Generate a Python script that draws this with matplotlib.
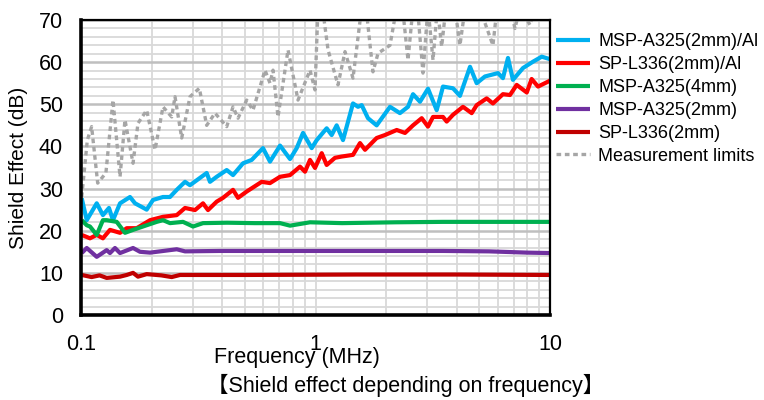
import numpy as np
import matplotlib
matplotlib.use("Agg")
import matplotlib.pyplot as plt
from matplotlib.ticker import MultipleLocator, LogLocator, FixedLocator, NullFormatter

plt.rcParams['font.family'] = ['Liberation Sans', 'DejaVu Sans', 'Noto Sans CJK JP']

# MSP-A325(2mm)/Al
blue_f = [0.1007, 0.1058, 0.1167, 0.124, 0.1316, 0.1369, 0.1467, 0.1618, 0.170, 0.1906,
          0.2028, 0.2237, 0.2396, 0.256, 0.2777, 0.2916, 0.3436, 0.3548, 0.379, 0.4182,
          0.4449, 0.4909, 0.5345, 0.5971, 0.6397, 0.706, 0.7788, 0.8315, 0.8845, 0.9634,
          1.012, 1.116, 1.172, 1.231, 1.31, 1.445, 1.518, 1.574, 1.674, 1.823,
          2.078, 2.291, 2.48, 2.605, 2.79, 3.018, 3.287, 3.497, 3.857, 4.13,
          4.56, 4.868, 5.28, 6.0, 6.3, 6.62, 6.95, 7.67, 8.46, 9.22, 10.0]
blue_v = [27.7, 22.5, 26.5, 23.7, 25.4, 22.5, 26.5, 28.0, 26.5, 25.0,
          27.3, 28.0, 28.0, 29.7, 31.6, 30.8, 33.7, 31.6, 32.8, 34.4,
          33.2, 36.0, 36.8, 39.6, 36.4, 40.2, 37.0, 39.6, 43.2, 39.6,
          41.5, 44.3, 42.7, 45.0, 41.5, 50.2, 49.4, 49.8, 46.7, 45.0,
          49.4, 47.9, 49.4, 52.4, 50.6, 53.7, 48.6, 54.2, 53.8, 52.0,
          58.9, 55.0, 56.6, 57.4, 56.2, 61.0, 55.8, 58.6, 60.1, 61.3, 60.7]

# SP-L336(2mm)/Al
red_f = [0.1007, 0.1092, 0.1167, 0.124, 0.1329, 0.1467, 0.1567, 0.1728, 0.197, 0.2237,
         0.256, 0.2777, 0.3063, 0.3314, 0.348, 0.379, 0.4032, 0.4449, 0.4673, 0.5089,
         0.5896, 0.6397, 0.706, 0.7788, 0.8588, 0.902, 0.9474, 0.995, 1.063, 1.116,
         1.211, 1.293, 1.445, 1.548, 1.626, 1.823, 1.977, 2.22, 2.408, 2.605,
         2.837, 3.018, 3.17, 3.497, 3.626, 3.857, 4.255, 4.635, 4.868, 5.37,
         5.71, 6.3, 6.75, 7.21, 7.96, 8.35, 8.89, 10.0]
red_v = [19.0, 18.2, 19.0, 18.2, 20.2, 19.5, 20.6, 20.6, 22.5, 23.3,
         23.7, 25.4, 24.9, 26.5, 24.9, 26.9, 27.8, 29.7, 27.8, 29.3,
         31.6, 31.3, 32.8, 33.2, 35.2, 34.0, 36.8, 34.9, 38.4, 35.6,
         37.3, 37.6, 38.0, 40.8, 39.2, 42.0, 42.7, 43.9, 43.2, 45.0,
         46.7, 44.7, 47.0, 47.0, 45.9, 47.5, 49.4, 47.9, 49.8, 51.4,
         50.2, 52.4, 52.2, 54.6, 52.8, 56.0, 54.2, 55.6]

# MSP-A325(4mm)
green_f = [0.1007, 0.1058, 0.1092, 0.1167, 0.124, 0.1287, 0.142, 0.154, 0.1667, 0.1906,
           0.2103, 0.2237, 0.2396, 0.2723, 0.3004, 0.3314, 0.42, 0.55, 0.706, 0.7788,
           0.9474, 1.3, 2.2, 3.5, 6.0, 10.0]
green_v = [22.5, 21.3, 21.0, 19.0, 22.5, 22.5, 22.1, 19.5, 20.2, 21.3,
           22.1, 22.5, 21.8, 22.1, 21.0, 21.8, 21.9, 21.8, 21.8, 21.2,
           22.0, 21.8, 22.0, 22.1, 22.1, 22.1]

# MSP-A325(2mm)
purple_f = [0.1007, 0.1058, 0.1167, 0.1287, 0.1329, 0.1396, 0.1467, 0.1667, 0.1785, 0.197,
            0.256, 0.2777, 0.39, 0.706, 1.5, 3.5, 5.5, 8.0, 10.0]
purple_v = [14.7, 15.9, 13.8, 15.4, 14.7, 15.9, 14.7, 15.9, 15.0, 14.8,
            15.6, 15.1, 15.2, 15.2, 15.2, 15.2, 15.1, 14.8, 14.7]

# SP-L336(2mm)
darkred_f = [0.1007, 0.111, 0.12, 0.1287, 0.1467, 0.1567, 0.1667, 0.175, 0.1906, 0.22,
             0.2437, 0.2644, 0.5, 1.5, 4.0, 10.0]
darkred_v = [9.5, 9.0, 9.4, 8.8, 9.1, 9.5, 10.0, 9.1, 9.7, 9.4,
             9.0, 9.5, 9.5, 9.6, 9.6, 9.5]

# Measurement limits
gray_f = [0.1007, 0.1064, 0.111, 0.1178, 0.1277, 0.1369, 0.1467, 0.154, 0.1667, 0.175,
          0.1906, 0.2069, 0.2237, 0.2437, 0.2517, 0.2688, 0.2916, 0.3196, 0.3436, 0.3727,
          0.4182, 0.4449, 0.4673, 0.5089, 0.5413, 0.609, 0.6397, 0.659, 0.692, 0.7635,
          0.8422, 0.9474, 0.995, 1.025, 1.076, 1.131, 1.247, 1.336, 1.445, 1.574,
          1.642, 1.758, 1.848, 2.078, 2.22, 2.36, 2.48, 2.605, 2.73, 2.873,
          3.018, 3.17, 3.31, 3.452, 3.6, 3.95, 4.13, 4.35, 5.0, 5.71,
          5.95, 6.75, 7.09, 7.45, 8.22, 8.63, 10.0]
gray_v = [28.0, 41.5, 44.7, 31.3, 33.7, 51.0, 32.8, 46.3, 36.0, 45.5,
          48.6, 39.2, 49.4, 47.0, 51.8, 42.0, 51.8, 53.8, 45.0, 47.9,
          44.7, 49.4, 46.7, 51.0, 48.6, 58.1, 55.0, 58.1, 47.0, 62.9,
          51.0, 58.1, 53.4, 73.0, 72.0, 62.9, 54.6, 62.5, 56.2, 73.0,
          73.0, 57.7, 62.1, 64.0, 73.0, 72.0, 60.5, 73.0, 72.0, 57.4,
          73.0, 60.5, 73.0, 63.7, 73.0, 72.0, 64.0, 73.0, 73.0, 64.0,
          73.0, 73.0, 68.0, 73.0, 68.8, 73.0, 73.0]

series = [
    (blue_f, blue_v, '#00B0F0', 'MSP-A325(2mm)/Al'),
    (red_f, red_v, '#FF0000', 'SP-L336(2mm)/Al'),
    (green_f, green_v, '#00B050', 'MSP-A325(4mm)'),
    (purple_f, purple_v, '#7030A0', 'MSP-A325(2mm)'),
    (darkred_f, darkred_v, '#C00000', 'SP-L336(2mm)'),
]

fig = plt.figure(figsize=(7.64, 4.0), dpi=100)
ax = fig.add_axes([81 / 764, 85 / 400, 469 / 764, 295 / 400])

for f, v, c, lab in series:
    ax.plot(f, v, color=c, lw=3.0, label=lab, solid_joinstyle='round',
            solid_capstyle='butt')
ax.plot(gray_f, gray_v, color='#A6A6A6', lw=2.4, dashes=(1.4, 1.1),
        label='Measurement limits')

ax.set_xscale('log')
ax.set_xlim(0.1, 10)
ax.set_ylim(0, 70)
ax.yaxis.set_major_locator(MultipleLocator(10))
ax.yaxis.set_minor_locator(MultipleLocator(2))
ax.xaxis.set_major_locator(FixedLocator([0.1, 1, 10]))
ax.xaxis.set_minor_locator(LogLocator(base=10, subs=np.arange(2, 10)))
ax.xaxis.set_minor_formatter(NullFormatter())
ax.set_xticklabels(['0.1', '1', '10'])

ax.grid(True, which='minor', color='#D9D9D9', lw=1.3)
ax.grid(True, which='major', axis='y', color='#BFBFBF', lw=1.8)
ax.grid(True, which='major', axis='x', color='#D9D9D9', lw=1.3)
ax.set_axisbelow(True)

ax.tick_params(which='both', length=0, labelsize=15.5, colors='black')
ax.tick_params(axis='y', pad=13)
ax.tick_params(axis='x', pad=14)

for side in ['left', 'bottom']:
    ax.spines[side].set_linewidth(2.6)
for side in ['top', 'right']:
    ax.spines[side].set_linewidth(1.6)

ax.set_ylabel('Shield Effect (dB)', fontsize=15)
ax.yaxis.set_label_coords(-0.112, 0.5)
ax.set_xlabel('Frequency (MHz)', fontsize=15.5)
ax.xaxis.set_label_coords(0.46, -0.107)

fig.text(406 / 764, 1 - 385 / 400, '【Shield effect depending on frequency】',
         fontsize=15.5, ha='center', va='center')

ax.legend(loc='upper left', bbox_to_anchor=(556 / 764, 1 - 33 / 400),
          bbox_transform=fig.transFigure, frameon=False, fontsize=13,
          handlelength=1.9, handletextpad=0.45, labelspacing=0.33,
          borderaxespad=0, borderpad=0)

fig.savefig('out.png', dpi=100)
